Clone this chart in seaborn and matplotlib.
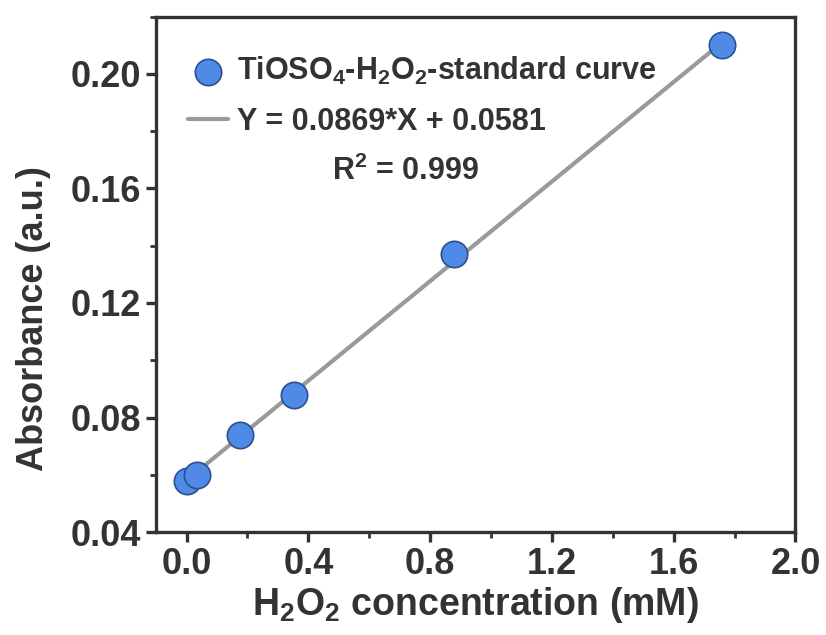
import numpy as np
import pandas as pd
import matplotlib
matplotlib.use("Agg")
import matplotlib.pyplot as plt
import seaborn as sns

# H2O2 standard solutions and their measured absorbance
concentration = [0.0, 0.035, 0.176, 0.352, 0.88, 1.76]
absorbance = [0.058, 0.060, 0.074, 0.088, 0.137, 0.210]

# linear fit reported for the calibration
slope = 0.0869
intercept = 0.0581
r_squared = 0.999

x_ticks = [0.0, 0.4, 0.8, 1.2, 1.6, 2.0]
y_ticks = [0.04, 0.08, 0.12, 0.16, 0.20]

sns.set_style("ticks")
plt.rcParams["font.family"] = ["Liberation Sans", "DejaVu Sans"]
plt.rcParams["font.weight"] = "bold"
plt.rcParams["mathtext.fontset"] = "custom"
plt.rcParams["mathtext.rm"] = "Liberation Sans:bold"
plt.rcParams["mathtext.bf"] = "Liberation Sans:bold"
plt.rcParams["mathtext.it"] = "Liberation Sans:bold"

ink = "#333333"

df = pd.DataFrame({"conc": concentration, "abs": absorbance})
fit = pd.DataFrame({"conc": concentration,
                    "abs": [slope * c + intercept for c in concentration]})

fig = plt.figure(figsize=(8.26, 6.35), dpi=100)
ax = fig.add_axes([0.189, 0.162, 0.774, 0.812])

sns.lineplot(data=fit, x="conc", y="abs", ax=ax, color="#9a9a9a",
             linewidth=3, zorder=2, label=f"Y = {slope}*X + {intercept}")
sns.scatterplot(data=df, x="conc", y="abs", ax=ax, s=360,
                color="#4f8ae6", edgecolor="#2f4f8f", linewidth=1.2,
                zorder=3, label=r"TiOSO$_4$-H$_2$O$_2$-standard curve")

ax.set_xlim(-0.1, 2.0)
ax.set_ylim(0.04, 0.22)
ax.set_xticks(x_ticks)
ax.set_yticks(y_ticks)
ax.set_xticklabels([f"{v:.1f}" for v in x_ticks])
ax.set_yticklabels([f"{v:.2f}" for v in y_ticks])
ax.xaxis.set_minor_locator(matplotlib.ticker.MultipleLocator(0.2))
ax.yaxis.set_minor_locator(matplotlib.ticker.MultipleLocator(0.02))

for side in ax.spines.values():
    side.set_linewidth(2.4)
    side.set_color(ink)
ax.tick_params(which="major", direction="out", length=7, width=2.4,
               color=ink, labelcolor=ink, labelsize=26, pad=4)
ax.tick_params(which="minor", direction="out", length=4, width=2.0, color=ink)
for lab in ax.get_xticklabels() + ax.get_yticklabels():
    lab.set_fontweight("bold")

ax.set_xlabel(r"H$_2$O$_2$ concentration (mM)", fontsize=27,
              fontweight="bold", color=ink, labelpad=2)
ax.set_ylabel("Absorbance (a.u.)", fontsize=26, fontweight="bold",
              color=ink)
ax.yaxis.set_label_coords(-0.165, 0.415)

handles, labels = ax.get_legend_handles_labels()
order = [1, 0]
leg = ax.legend([handles[i] for i in order], [labels[i] for i in order],
                loc="upper left", bbox_to_anchor=(0.05, 0.925), frameon=False,
                fontsize=22, handlelength=1.3, handletextpad=0.3,
                labelspacing=0.65, borderaxespad=0, borderpad=0)
for t in leg.get_texts():
    t.set_color(ink)
    t.set_fontweight("bold")

ax.text(0.39, 0.70, f"R$^2$ = {r_squared}", transform=ax.transAxes,
        fontsize=22, fontweight="bold", color=ink, ha="center", va="center")

fig.savefig("out.png", dpi=100)
